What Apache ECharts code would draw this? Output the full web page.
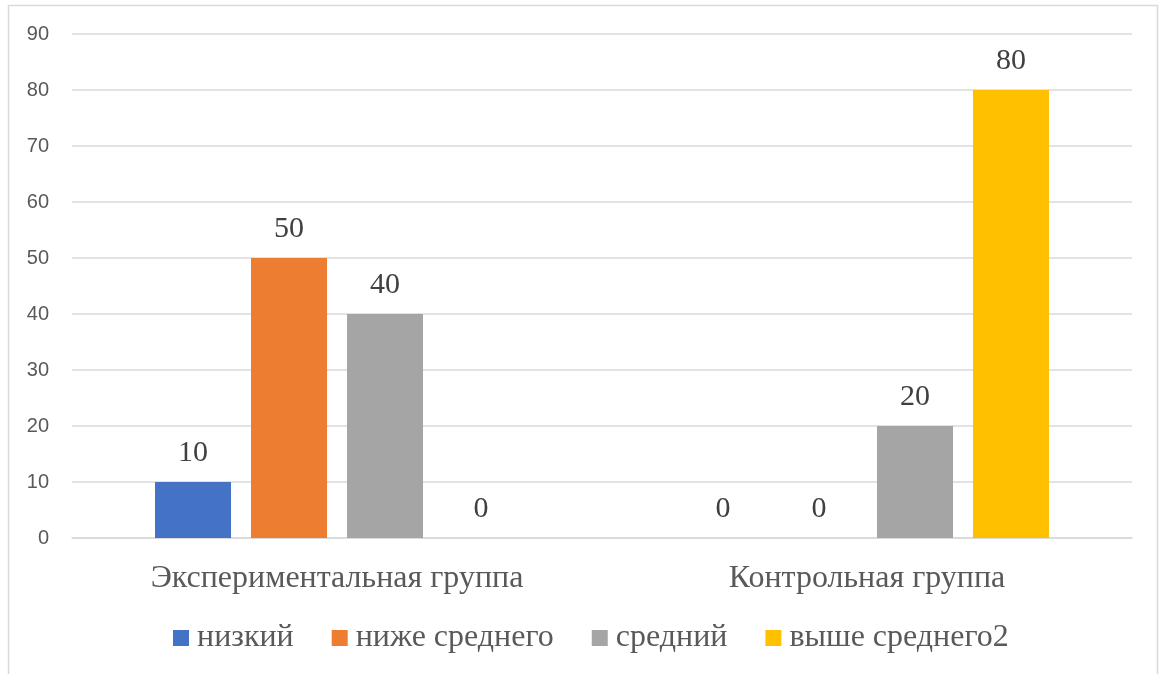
<!DOCTYPE html>
<html>
<head>
<meta charset="utf-8">
<script src="https://cdn.jsdelivr.net/npm/echarts@6/dist/echarts.min.js"></script>
<style>
  html, body { margin: 0; padding: 0; background: #fff; }
  #chart { width: 1160px; height: 674px; }
</style>
</head>
<body>
<div id="chart"></div>
<script>
// данные диаграммы
const categories = ['Экспериментальная группа', 'Контрольная группа']
const seriesNames = ['низкий', 'ниже среднего', 'средний', 'выше среднего2']
const lowValues = [10, 0]
const belowAvgValues = [50, 0]
const avgValues = [40, 20]
const aboveAvgValues = [0, 80]
const yTicks = [0, 10, 20, 30, 40, 50, 60, 70, 80, 90]

const colors = ['#4472C4', '#ED7D31', '#A5A5A5', '#FFC000']
const serif = '"Liberation Serif", "DejaVu Serif", serif'

const chart = echarts.init(document.getElementById('chart'))

function makeSeries(name, data) {
  return {
    name: name,
    type: 'bar',
    data: data,
    barWidth: 76,
    barGap: '26.3%',
    label: {
      show: true,
      position: 'top',
      distance: 14,
      fontFamily: serif,
      fontSize: 30,
      color: '#404040'
    }
  }
}

const option = {
  color: colors,
  animation: false,
  graphic: [
    {
      type: 'rect',
      shape: { x: 8.5, y: 5.5, width: 1149, height: 680 },
      style: { fill: 'none', stroke: '#d9d9d9', lineWidth: 1.5 },
      silent: true
    }
  ],
  grid: {
    left: 72,
    right: 28,
    top: 34,
    bottom: 136
  },
  legend: {
    data: seriesNames,
    bottom: 15,
    left: 168,
    icon: 'rect',
    itemWidth: 16,
    itemHeight: 16,
    itemGap: 38,
    textStyle: {
      fontFamily: serif,
      fontSize: 32,
      color: '#595959',
      padding: [0, 0, 0, 3]
    }
  },
  xAxis: {
    type: 'category',
    data: categories,
    axisTick: { show: false },
    axisLine: { lineStyle: { color: '#d9d9d9', width: 1.5 } },
    axisLabel: {
      margin: 25,
      fontFamily: serif,
      fontSize: 32,
      color: '#595959'
    }
  },
  yAxis: {
    type: 'value',
    min: yTicks[0],
    max: yTicks[yTicks.length - 1],
    interval: 10,
    axisLine: { show: false },
    axisTick: { show: false },
    splitLine: { lineStyle: { color: '#d9d9d9', width: 1.5 } },
    axisLabel: {
      margin: 23,
      fontFamily: '"Liberation Sans", Arial, sans-serif',
      fontSize: 20,
      color: '#595959'
    }
  },
  series: [
    makeSeries(seriesNames[0], lowValues),
    makeSeries(seriesNames[1], belowAvgValues),
    makeSeries(seriesNames[2], avgValues),
    makeSeries(seriesNames[3], aboveAvgValues)
  ]
}

chart.setOption(option)
</script>
</body>
</html>
